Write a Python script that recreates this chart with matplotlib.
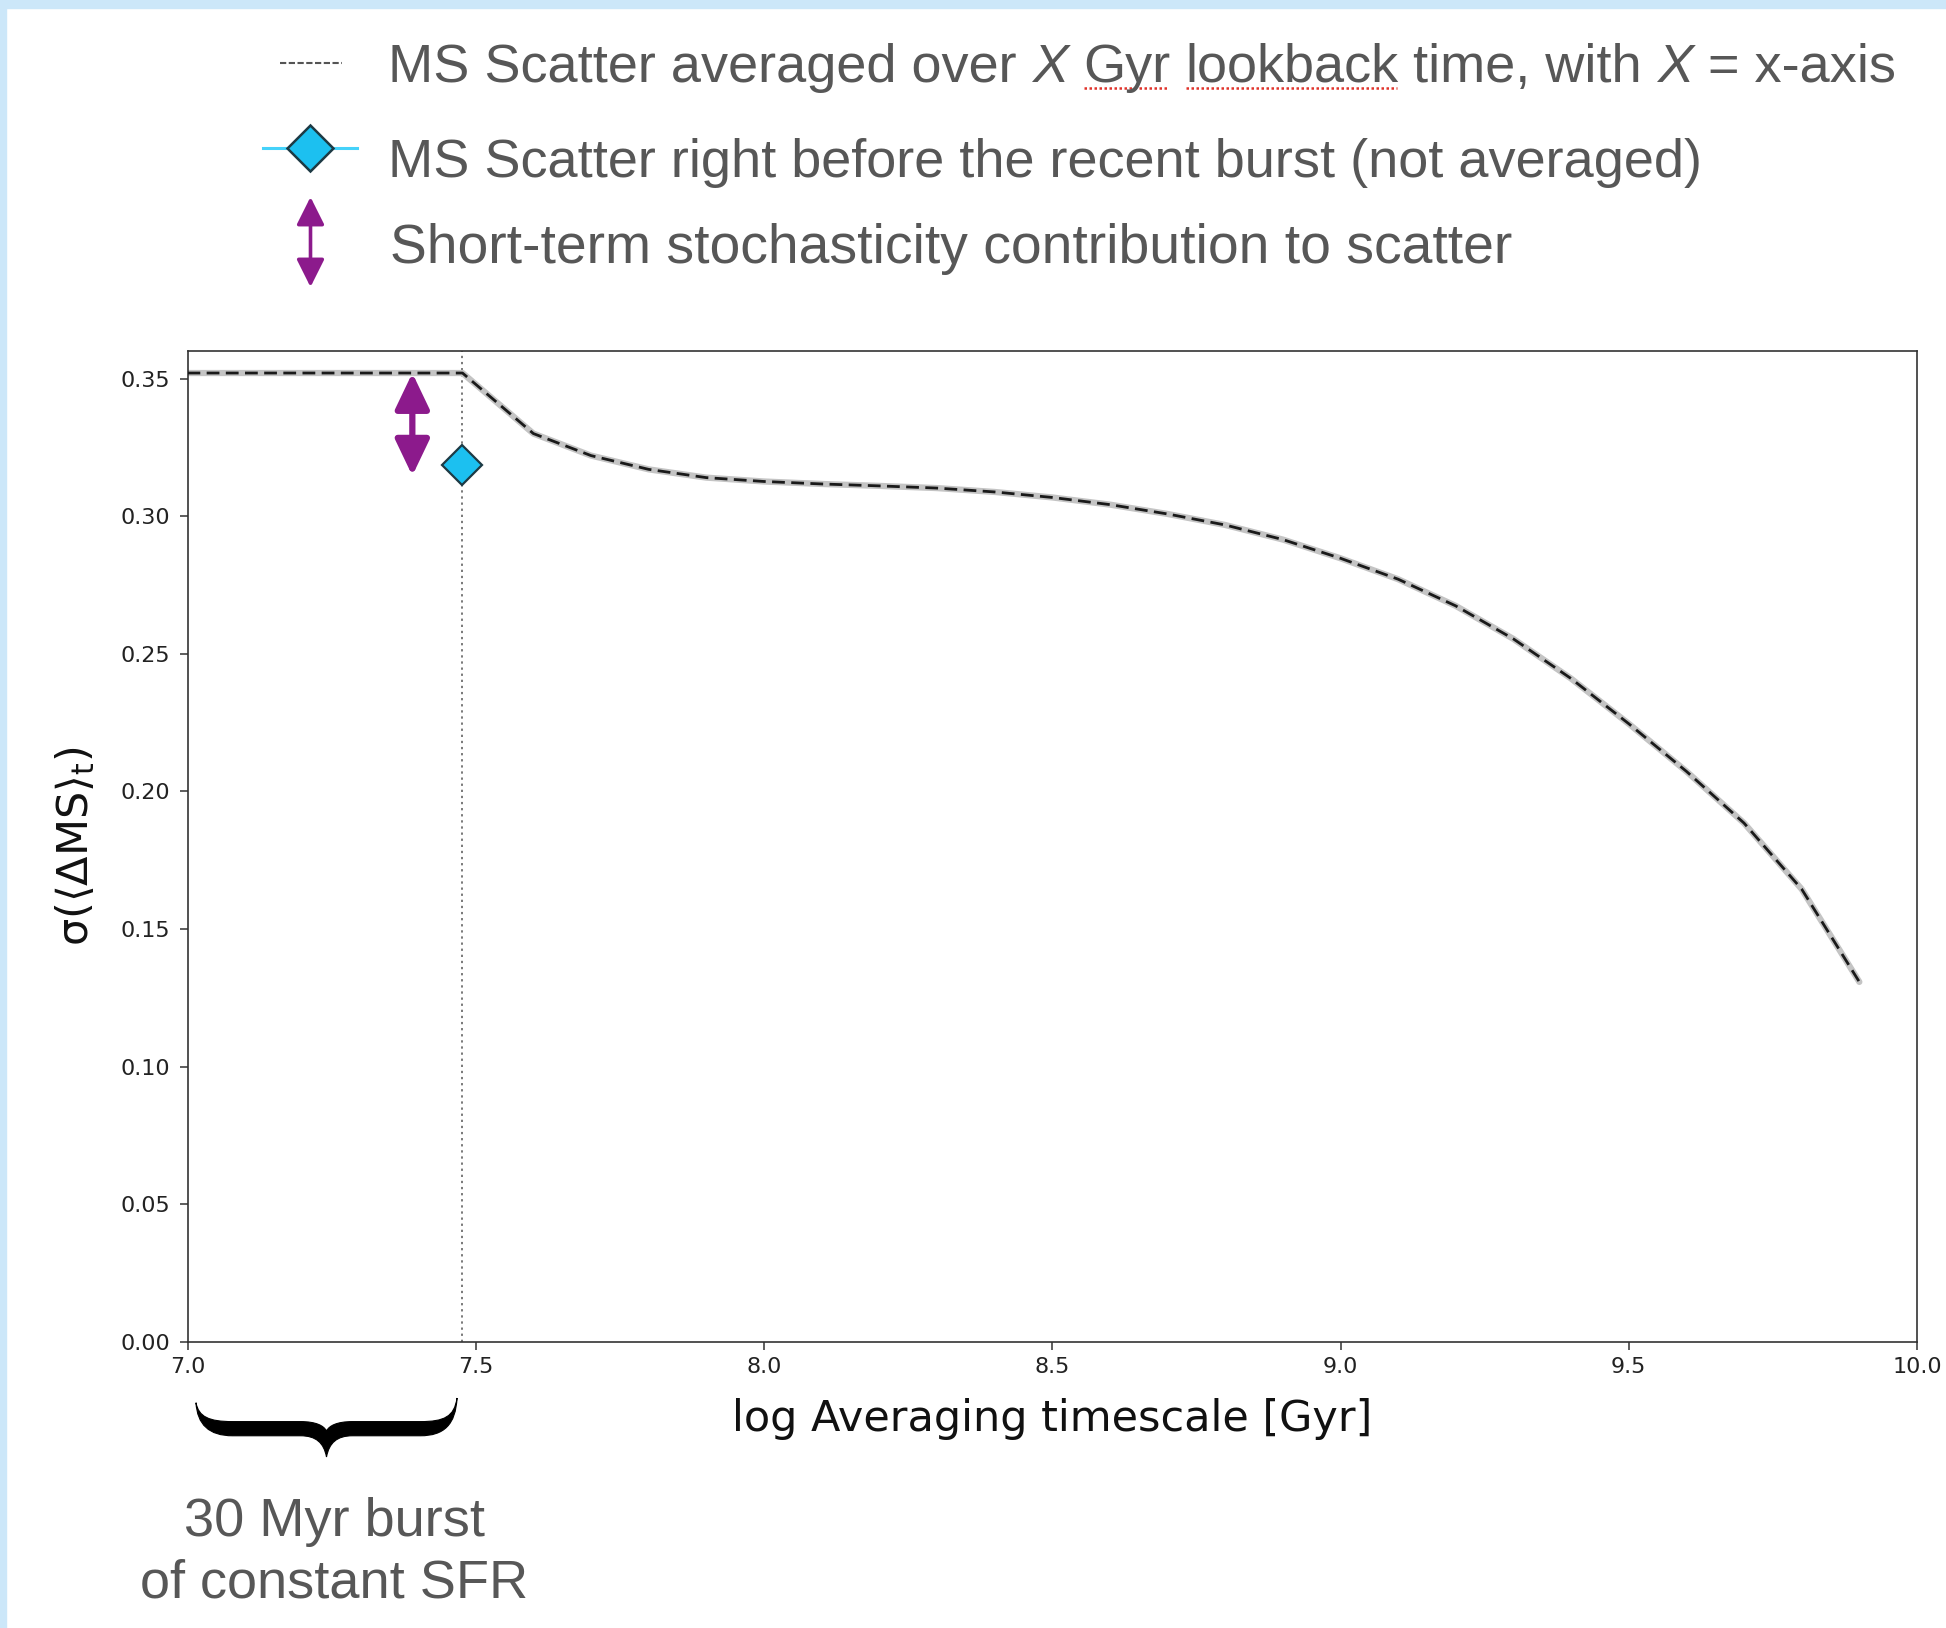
import numpy as np
import matplotlib
matplotlib.use("Agg")
import matplotlib.pyplot as plt
from matplotlib.patches import FancyArrowPatch, PathPatch, Rectangle, ArrowStyle
from matplotlib.path import Path
from matplotlib.lines import Line2D

# ---------------- data ----------------
log_t = [7.0, 7.477, 7.6, 7.7, 7.8, 7.9, 8.0, 8.1, 8.2, 8.3, 8.4, 8.5, 8.6,
         8.7, 8.8, 8.9, 9.0, 9.1, 9.2, 9.3, 9.4, 9.5, 9.6, 9.7, 9.8, 9.9]
ms_scatter = [0.352, 0.352, 0.330, 0.322, 0.317, 0.314, 0.3126, 0.3117, 0.311,
              0.3102, 0.3088, 0.3068, 0.3042, 0.3008, 0.2968, 0.2915, 0.2847,
              0.2771, 0.2674, 0.2554, 0.2410, 0.2246, 0.2073, 0.1885, 0.1645,
              0.1308]
burst_log_t = 7.477
pre_burst_scatter = 0.3186
arrow_x = 7.39
arrow_top = 0.352
arrow_bottom = 0.3147

xticks = [7.0, 7.5, 8.0, 8.5, 9.0, 9.5, 10.0]
xtick_labels = ["7.0", "7.5", "8.0", "8.5", "9.0", "9.5", "10.0"]
yticks = [0.00, 0.05, 0.10, 0.15, 0.20, 0.25, 0.30, 0.35]
ytick_labels = ["0.00", "0.05", "0.10", "0.15", "0.20", "0.25", "0.30", "0.35"]

legend_line1 = [("MS Scatter averaged over ", "normal"), ("X", "italic"),
                (" ", "normal"), ("Gyr", "normal"), (" ", "normal"),
                ("lookback", "normal"), (" time, with ", "normal"),
                ("X", "italic"), (" = x-axis", "normal")]
legend_line2 = "MS Scatter right before the recent burst (not averaged)"
legend_line3 = "Short-term stochasticity contribution to scatter"
burst_note = ["30 Myr burst", "of constant SFR"]

# ---------------- figure ----------------
W, H = 1946, 1628
fig = plt.figure(figsize=(W / 100, H / 100), dpi=100)
fig.patch.set_facecolor("white")


def fx(px):
    return px / W


def fy(py_top):
    return 1 - py_top / H


# light-blue frame (top and left)
border = "#cce7f9"
fig.patches.append(Rectangle((0, fy(8)), 1, 8 / H, transform=fig.transFigure,
                             color=border, zorder=0))
fig.patches.append(Rectangle((0, 0), fx(6), 1, transform=fig.transFigure,
                             color=border, zorder=0))

ax = fig.add_axes([fx(187.5), fy(1342), fx(1917 - 187.5), (1342 - 351) / H])
ax.set_xlim(7.0, 10.0)
ax.set_ylim(0.0, 0.36)

purple = "#8c1a8c"
cyan = "#1cc0f0"

ax.axvline(burst_log_t, color="#555555", lw=1.1, ls=(0, (1.5, 2.5)), zorder=1)
ax.plot(log_t, ms_scatter, color="#c4c4c4", lw=4.5, solid_capstyle="round",
        zorder=2)
ax.plot(log_t, ms_scatter, color="#1a1a1a", lw=2.0, dashes=(4.6, 2.3),
        zorder=3)
ax.plot([burst_log_t], [pre_burst_scatter], marker="D", ms=20, mfc=cyan,
        mec="#1d3a44", mew=1.6, ls="none", zorder=4)

arr = FancyArrowPatch((arrow_x, arrow_bottom), (arrow_x, arrow_top),
                      arrowstyle=ArrowStyle("<|-|>", head_length=22,
                                            head_width=10.5),
                      mutation_scale=1, lw=4.5, color=purple, shrinkA=0,
                      shrinkB=0, zorder=5)
ax.add_patch(arr)

ax.set_xticks(xticks)
ax.set_xticklabels(xtick_labels)
ax.set_yticks(yticks)
ax.set_yticklabels(ytick_labels)
ax.tick_params(axis="both", labelsize=16, length=5.5, width=1.1,
               color="#333333", labelcolor="#222222")
ax.tick_params(axis="y", pad=7)
ax.tick_params(axis="x", pad=5)
for s in ax.spines.values():
    s.set_linewidth(1.2)
    s.set_color("#333333")

ax.set_xlabel("log Averaging timescale [Gyr]", fontsize=31, color="#111111")
ax.xaxis.set_label_coords(0.5, -0.057)
ax.set_ylabel(r"$\mathrm{\sigma(\langle\Delta MS\rangle_t)}$", fontsize=31,
              color="#111111")
ax.yaxis.set_label_coords(-0.052, 0.5)

# ---------------- legend-like annotations ----------------
renderer = fig.canvas.get_renderer()
gray = "#575757"
fam = "Liberation Sans"


def ink_w(s, **kw):
    t = fig.text(0, 0, s, **kw)
    w = t.get_window_extent(renderer).width
    t.remove()
    return w


def adv(s, **kw):
    return ink_w("I" + s + "I", **kw) - ink_w("II", **kw)


fs0 = 39
fs = fs0 * 1313 / ink_w(legend_line2, family=fam, fontsize=fs0)
fs3 = fs0 * 1120 / ink_w(legend_line3, family=fam, fontsize=fs0)

x_text = 388
# line 1 with italic X and red spell-check underlines
x = x_text
for piece, style in legend_line1:
    kw = dict(family=fam, fontsize=fs, style=style)
    fig.text(fx(x), fy(82), piece, color=gray, va="baseline", ha="left", **kw)
    a = adv(piece, **kw)
    if piece in ("Gyr", "lookback"):
        fig.add_artist(Line2D([fx(x + 1), fx(x + a - 1)], [fy(88), fy(88)],
                              transform=fig.transFigure, color="#e0332b",
                              lw=1.8, ls=(0, (1, 1))))
    x += a

fig.text(fx(x_text), fy(177), legend_line2, color=gray, va="baseline",
         ha="left", family=fam, fontsize=fs)
fig.text(fx(x_text + 2), fy(263), legend_line3, color=gray, va="baseline",
         ha="left", family=fam, fontsize=fs3)

# legend glyphs
fig.add_artist(Line2D([fx(280), fx(342)], [fy(63), fy(63)],
                      transform=fig.transFigure, color="#555555", lw=1.5,
                      dashes=(3, 1.2)))
fig.add_artist(Line2D([fx(263), fx(357)], [fy(148), fy(148)],
                      transform=fig.transFigure, color="#45d2fa", lw=2.2))
fig.add_artist(Line2D([fx(310)], [fy(148)], transform=fig.transFigure,
                      marker="D", ms=23, mfc=cyan, mec="#1d3a44", mew=1.8,
                      ls="none"))
fig.patches.append(FancyArrowPatch((fx(310.5), fy(287)), (fx(310.5), fy(197)),
                                   transform=fig.transFigure,
                                   arrowstyle=ArrowStyle("<|-|>",
                                                         head_length=17,
                                                         head_width=8.5),
                                   mutation_scale=1, lw=2.6, color=purple,
                                   shrinkA=0, shrinkB=0))

# ---------------- brace under the burst interval ----------------
bx0, bx1, by0, by1 = 196, 457, 1398, 1457


def bp(u, v):
    return (fx(bx0 + u * (bx1 - bx0)), fy(by0 + v * (by1 - by0)))


M, C, L = Path.MOVETO, Path.CURVE4, Path.LINETO
pts = [((0, 0.08), M),
       ((0.01, 0.32), C), ((0.05, 0.40), C), ((0.14, 0.40), C),
       ((0.40, 0.40), L),
       ((0.46, 0.40), C), ((0.49, 0.47), C), ((0.50, 0.56), C),
       ((0.51, 0.47), C), ((0.54, 0.40), C), ((0.60, 0.40), C),
       ((0.86, 0.40), L),
       ((0.95, 0.40), C), ((0.99, 0.32), C), ((1.0, 0.0), C),
       ((0.995, 0.45), C), ((0.95, 0.64), C), ((0.86, 0.64), C),
       ((0.60, 0.64), L),
       ((0.54, 0.64), C), ((0.51, 0.76), C), ((0.50, 1.0), C),
       ((0.49, 0.76), C), ((0.46, 0.64), C), ((0.40, 0.64), C),
       ((0.14, 0.64), L),
       ((0.05, 0.64), C), ((0.005, 0.45), C), ((0, 0.08), C),
       ((0, 0.08), Path.CLOSEPOLY)]
verts = [bp(*p) for p, _ in pts]
codes = [c for _, c in pts]
fig.patches.append(PathPatch(Path(verts, codes), transform=fig.transFigure,
                             facecolor="black", edgecolor="black", lw=0.8))

fig.text(fx(334), fy(1536), burst_note[0], color=gray, va="baseline",
         ha="center", family=fam, fontsize=fs)
fig.text(fx(334), fy(1598), burst_note[1], color=gray, va="baseline",
         ha="center", family=fam, fontsize=fs)

fig.savefig("out.png", dpi=100, facecolor="white")
